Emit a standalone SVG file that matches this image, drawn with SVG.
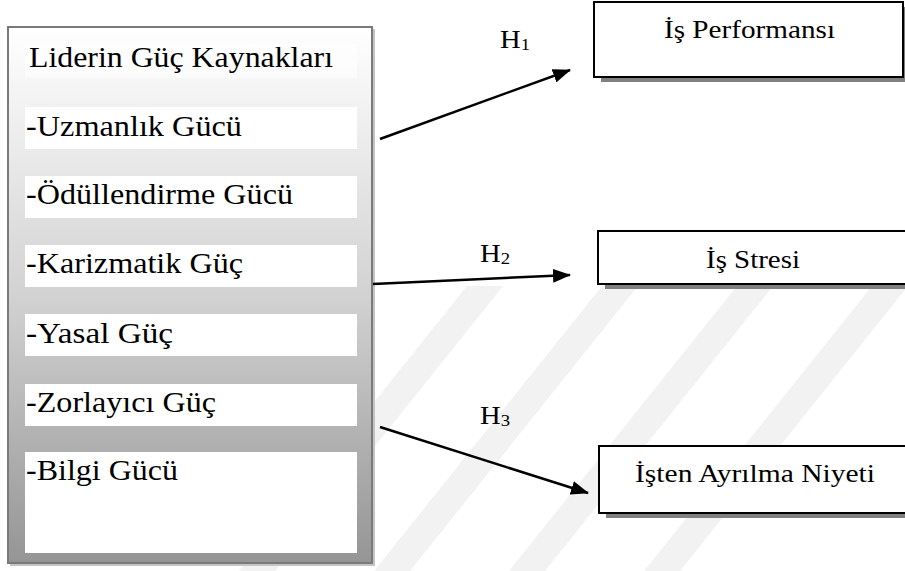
<svg xmlns="http://www.w3.org/2000/svg" width="905" height="571" viewBox="0 0 905 571">
  <style>
    text { font-family: 'Liberation Serif', 'Times New Roman', Times, serif; fill: #000; }
    .row { fill: #ffffff; }
    .box { fill: #ffffff; stroke: #000; stroke-width: 2; }
    .box-shadow { fill: #808080; }
    .wire { fill: none; stroke: #000; stroke-width: 2.5; }
    .stripe { fill: #f2f2f2; }
  </style>
  <defs>
    <linearGradient id="panelFill" x1="0" y1="0" x2="0" y2="1">
      <stop offset="0" stop-color="#ffffff"/>
      <stop offset="0.5" stop-color="#d2d2d2"/>
      <stop offset="1" stop-color="#959595"/>
    </linearGradient>
    <marker id="arrowHead" viewBox="0 0 18 14" refX="17" refY="7" markerWidth="18" markerHeight="14" markerUnits="userSpaceOnUse" orient="auto">
      <path d="M0,0 L18,7 L0,14 Z" fill="#000"/>
    </marker>
    <clipPath id="markClip">
      <rect x="0" y="286" width="905" height="285"/>
    </clipPath>
  </defs>

  <rect width="905" height="571" fill="#ffffff"/>

  <!-- faint background stripes -->
  <g id="backdrop" clip-path="url(#markClip)">
    <polygon class="stripe" points="467,286 503,286 275,571 239,571"/>
    <polygon class="stripe" points="602,286 638,286 410,571 374,571"/>
    <polygon class="stripe" points="737,286 773,286 545,571 509,571"/>
    <polygon class="stripe" points="872,286 908,286 680,571 644,571"/>
  </g>

  <!-- source panel: leader power bases -->
  <g id="power-sources">
    <rect x="10" y="29" width="365" height="537" fill="#c4c4c4"/>
    <rect x="8" y="27" width="364" height="536" fill="url(#panelFill)" stroke="#7a7a7a" stroke-width="2"/>
    <rect class="row" x="25" y="44" width="332" height="34" fill-opacity="0.6"/>
    <rect class="row" x="25" y="107" width="332" height="42"/>
    <rect class="row" x="25" y="176" width="332" height="42"/>
    <rect class="row" x="25" y="245" width="332" height="42"/>
    <rect class="row" x="25" y="314" width="332" height="42"/>
    <rect class="row" x="25" y="384" width="332" height="42"/>
    <rect class="row" x="25" y="452" width="332" height="101"/>
    <text font-size="29" x="29" y="67" textLength="304" lengthAdjust="spacingAndGlyphs">Liderin Güç Kaynakları</text>
    <text font-size="29" x="26" y="136" textLength="216" lengthAdjust="spacingAndGlyphs">-Uzmanlık Gücü</text>
    <text font-size="29" x="26" y="204" textLength="267" lengthAdjust="spacingAndGlyphs">-Ödüllendirme Gücü</text>
    <text font-size="29" x="26" y="273" textLength="217" lengthAdjust="spacingAndGlyphs">-Karizmatik Güç</text>
    <text font-size="29" x="26" y="343" textLength="147" lengthAdjust="spacingAndGlyphs">-Yasal Güç</text>
    <text font-size="29" x="26" y="412" textLength="190" lengthAdjust="spacingAndGlyphs">-Zorlayıcı Güç</text>
    <text font-size="29" x="26" y="480" textLength="152" lengthAdjust="spacingAndGlyphs">-Bilgi Gücü</text>
  </g>

  <!-- outcome: job performance -->
  <g id="job-performance">
    <rect class="box-shadow" x="601" y="7" width="310" height="75"/>
    <rect class="box" x="594" y="2" width="309" height="75"/>
    <text font-size="25" x="664" y="38" textLength="171" lengthAdjust="spacingAndGlyphs">İş Performansı</text>
  </g>

  <!-- outcome: job stress -->
  <g id="job-stress">
    <rect class="box-shadow" x="605" y="236" width="310" height="53"/>
    <rect class="box" x="598" y="231" width="320" height="53"/>
    <text font-size="25" x="706" y="268" textLength="94" lengthAdjust="spacingAndGlyphs">İş Stresi</text>
  </g>

  <!-- outcome: turnover intention -->
  <g id="turnover-intention">
    <rect class="box-shadow" x="606" y="451" width="310" height="67"/>
    <rect class="box" x="599" y="446" width="320" height="67"/>
    <text font-size="25" x="635" y="482" textLength="240" lengthAdjust="spacingAndGlyphs">İşten Ayrılma Niyeti</text>
  </g>

  <!-- hypothesis paths -->
  <g id="connectors">
    <line class="wire" x1="380" y1="139" x2="570" y2="70" marker-end="url(#arrowHead)"/>
    <line class="wire" x1="373" y1="284" x2="570" y2="275" marker-end="url(#arrowHead)"/>
    <line class="wire" x1="380" y1="427" x2="588" y2="493" marker-end="url(#arrowHead)"/>
    <text font-size="26" transform="translate(500,48) scale(1.1,1)">H<tspan font-size="17" dy="2">1</tspan></text>
    <text font-size="26" transform="translate(480,262) scale(1.1,1)">H<tspan font-size="17" dy="2">2</tspan></text>
    <text font-size="26" transform="translate(480,424) scale(1.1,1)">H<tspan font-size="17" dy="2">3</tspan></text>
  </g>
</svg>
